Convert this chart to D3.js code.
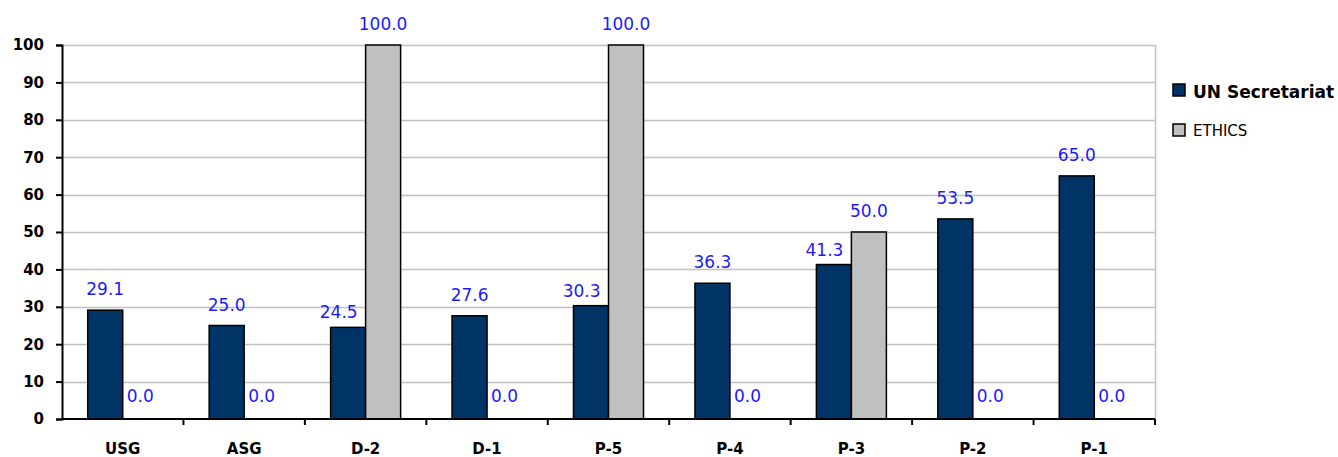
<!DOCTYPE html>
<html>
<head>
<meta charset="utf-8">
<script src="https://cdn.jsdelivr.net/npm/d3@7/dist/d3.min.js"></script>
<style>
  html, body { margin: 0; padding: 0; background: #fff; }
  svg { display: block; }
</style>
</head>
<body>
<svg id="chart" width="1338" height="457"></svg>
<script>
// Grade levels along the x axis
const categories = ["USG", "ASG", "D-2", "D-1", "P-5", "P-4", "P-3", "P-2", "P-1"];
// Percentage values per series
const unSecretariat = [29.1, 25.0, 24.5, 27.6, 30.3, 36.3, 41.3, 53.5, 65.0];
const ethics = [0.0, 0.0, 100.0, 0.0, 100.0, 0.0, 50.0, 0.0, 0.0];
const seriesNames = ["UN Secretariat", "ETHICS"];
const yTicks = [0, 10, 20, 30, 40, 50, 60, 70, 80, 90, 100];

const seriesColors = ["#003366", "#c0c0c0"];
const series = [unSecretariat, ethics];
const font = "'DejaVu Sans', Verdana, sans-serif";

const svg = d3.select("#chart");
const plot = { left: 62, right: 1155, top: 45, bottom: 419 };

const x = d3.scaleBand().domain(categories).range([plot.left, plot.right]);
const xInner = d3.scaleBand().domain(seriesNames).range([0, 70]);
const y = d3.scaleLinear().domain([0, 100]).range([plot.bottom, plot.top]);

// Horizontal gridlines
svg.append("g")
  .selectAll("line")
  .data(yTicks.filter(d => d > 0))
  .join("line")
  .attr("x1", plot.left).attr("x2", plot.right)
  .attr("y1", d => Math.round(y(d)) + 0.5).attr("y2", d => Math.round(y(d)) + 0.5)
  .attr("stroke", "#c0c0c0").attr("stroke-width", 1.5);

// Right border of plot area
svg.append("line")
  .attr("x1", plot.right + 0.5).attr("x2", plot.right + 0.5)
  .attr("y1", plot.top).attr("y2", plot.bottom)
  .attr("stroke", "#c0c0c0").attr("stroke-width", 1.5);

// Bars
const groups = svg.append("g")
  .selectAll("g")
  .data(categories)
  .join("g")
  .attr("transform", d => `translate(${x(d) + x.bandwidth() / 2 - 35},0)`);

seriesNames.forEach((name, si) => {
  groups.append("rect")
    .attr("x", xInner(name))
    .attr("width", xInner.bandwidth())
    .attr("y", (d, i) => y(series[si][i]))
    .attr("height", (d, i) => y(0) - y(series[si][i]))
    .attr("fill", seriesColors[si])
    .attr("stroke", "#000")
    .attr("stroke-width", 1.5)
    .attr("display", (d, i) => series[si][i] > 0 ? null : "none");

  // A first-series label next to a taller second bar is tucked to the left
  const tucked = i => si === 0 && series[1][i] > series[0][i];

  groups.append("text")
    .attr("x", (d, i) => tucked(i)
      ? xInner(name) + xInner.bandwidth() - 8
      : xInner(name) + xInner.bandwidth() / 2)
    .attr("y", (d, i) => y(series[si][i]) - (tucked(i) ? 9 : series[si][i] > 0 ? 15 : 17))
    .attr("text-anchor", (d, i) => tucked(i) ? "end" : "middle")
    .attr("font-family", font)
    .attr("font-size", 17)
    .attr("fill", "#1a1aff")
    .text((d, i) => series[si][i].toFixed(1));
});

// Y axis
const yAxis = svg.append("g")
  .attr("transform", `translate(${plot.left},0)`)
  .call(d3.axisLeft(y).tickValues(yTicks).tickSize(6).tickPadding(12));
yAxis.selectAll("text")
  .attr("font-family", font)
  .attr("font-weight", "bold")
  .attr("font-size", 15)
  .attr("fill", "#000");
yAxis.selectAll("line,path").attr("stroke", "#000").attr("stroke-width", 2);

// X axis: ticks at category boundaries
const xAxis = svg.append("g").attr("transform", `translate(0,${plot.bottom})`);
xAxis.append("line")
  .attr("x1", plot.left).attr("x2", plot.right)
  .attr("stroke", "#000").attr("stroke-width", 2);
xAxis.selectAll("line.tick")
  .data(categories)
  .join("line")
  .attr("class", "tick")
  .attr("x1", d => x(d) + x.bandwidth()).attr("x2", d => x(d) + x.bandwidth())
  .attr("y1", 0).attr("y2", 6)
  .attr("stroke", "#000").attr("stroke-width", 2);
xAxis.selectAll("text")
  .data(categories)
  .join("text")
  .attr("x", d => x(d) + x.bandwidth() / 2)
  .attr("y", 35)
  .attr("text-anchor", "middle")
  .attr("font-family", font)
  .attr("font-weight", "bold")
  .attr("font-size", 15)
  .text(d => d);

// Legend
const legend = svg.append("g").attr("transform", "translate(1173,84)");
const legendItems = legend.selectAll("g")
  .data(seriesNames)
  .join("g")
  .attr("transform", (d, i) => `translate(0,${i * 40})`);
legendItems.append("rect")
  .attr("width", 12).attr("height", 12)
  .attr("fill", (d, i) => seriesColors[i])
  .attr("stroke", "#000").attr("stroke-width", 1.5);
legendItems.append("text")
  .attr("x", 20).attr("y", (d, i) => i === 0 ? 13.5 : 12)
  .attr("font-family", font)
  .attr("font-weight", (d, i) => i === 0 ? "bold" : "normal")
  .attr("font-size", (d, i) => i === 0 ? 17 : 15)
  .attr("fill", "#000")
  .text(d => d);
</script>
</body>
</html>
